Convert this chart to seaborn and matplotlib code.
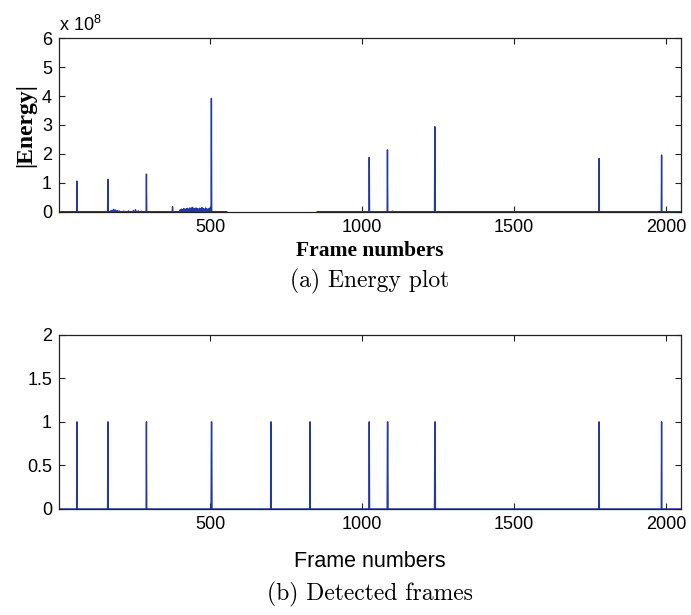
import numpy as np
import pandas as pd
import matplotlib
matplotlib.use('Agg')
import matplotlib.pyplot as plt
import seaborn as sns

# frame count and energy spikes (energy in units of 1e8)
n_frames = 2049
spike_frames = [60, 162, 289, 503, 1023, 1083, 1239, 1780, 1986]
spike_energy = [1.06, 1.12, 1.30, 3.92, 1.88, 2.14, 2.94, 1.84, 1.96]

# small low-level energy before frame 500
noise_frames = [170, 176, 181, 187, 193, 199, 214, 230, 246, 253, 262, 272, 375,
                400, 404, 408, 412, 416, 420, 424, 428, 432, 436, 440, 444, 448,
                452, 456, 460, 464, 468, 472, 476, 480, 484, 488, 492, 496, 1100]
noise_energy = [0.03, 0.05, 0.08, 0.06, 0.04, 0.03, 0.02, 0.03, 0.04, 0.07, 0.03, 0.02, 0.17,
                0.06, 0.09, 0.07, 0.11, 0.08, 0.10, 0.12, 0.09, 0.13, 0.11, 0.15, 0.12, 0.10,
                0.13, 0.11, 0.09, 0.12, 0.10, 0.14, 0.11, 0.09, 0.13, 0.10, 0.08, 0.12, 0.02]

# frames with no energy line drawn
gap_start, gap_end = 555, 850

# detected frames (value 1)
detected_frames = [60, 162, 289, 503, 504, 699, 828, 1023, 1083, 1084, 1239, 1240, 1780, 1986]

xticks = [500, 1000, 1500, 2000]
energy_yticks = [0, 1, 2, 3, 4, 5, 6]
detect_yticks = [0, 0.5, 1, 1.5, 2]

# build series
frames = np.arange(1, n_frames + 1)
energy = np.zeros(n_frames)
energy[np.array(noise_frames) - 1] = noise_energy
energy[np.array(spike_frames) - 1] = spike_energy
energy_df = pd.DataFrame({'frame': frames, 'energy': energy})
energy_df['segment'] = np.where(energy_df['frame'] < gap_start, 0, 1)
energy_df = energy_df[(energy_df['frame'] < gap_start) | (energy_df['frame'] > gap_end)]

detected = np.zeros(n_frames)
detected[np.array(detected_frames) - 1] = 1
detect_df = pd.DataFrame({'frame': frames, 'detected': detected})

sns.set_style('ticks')
plt.rcParams['font.family'] = ['Liberation Sans', 'DejaVu Sans']
plt.rcParams['mathtext.fontset'] = 'custom'
plt.rcParams['mathtext.rm'] = 'Liberation Sans'
plt.rcParams['axes.labelcolor'] = 'black'
plt.rcParams['text.color'] = 'black'

line_color = '#2338a0'
fig = plt.figure(figsize=(6.91, 6.15), dpi=100)
ax1 = fig.add_axes([0.0854, 0.6558, 0.8997, 0.2819])
ax2 = fig.add_axes([0.0854, 0.1724, 0.8997, 0.2834])

sns.lineplot(data=energy_df, x='frame', y='energy', units='segment', estimator=None,
             color=line_color, lw=1.0, ax=ax1)
sns.lineplot(data=detect_df, x='frame', y='detected', estimator=None,
             color=line_color, lw=1.0, ax=ax2)

for ax in (ax1, ax2):
    ax.set_xlim(1, n_frames)
    ax.set_xticks(xticks)
    ax.tick_params(direction='in', top=True, right=True, length=4, width=0.8,
                   labelsize=13, pad=5, colors='#222222', labelcolor='black')
    for s in ax.spines.values():
        s.set_linewidth(0.9)
        s.set_color('#222222')

ax1.set_ylim(0, 6)
ax1.set_yticks(energy_yticks)
ax1.set_ylabel('|Energy|', fontfamily='Liberation Serif', fontweight='bold', fontsize=17, labelpad=4)
ax1.set_xlabel('Frame numbers', fontfamily='Liberation Serif', fontweight='bold', fontsize=15.5, labelpad=4)
ax1.text(0, 1.02, r'x 10$^{8}$', transform=ax1.transAxes, fontsize=13, ha='left', va='bottom')

ax2.set_ylim(0, 2)
ax2.set_yticks(detect_yticks)
ax2.set_yticklabels(['0', '0.5', '1', '1.5', '2'])
ax2.set_ylabel('')
ax2.set_xlabel('Frame numbers', fontsize=15.5, labelpad=13)

fig.text(0.535, 0.542, '(a) Energy plot', fontfamily='cmr10', fontsize=17, ha='center', va='center')
fig.text(0.535, 0.034, '(b) Detected frames', fontfamily='cmr10', fontsize=17, ha='center', va='center')

plt.savefig('out.png', dpi=100)
